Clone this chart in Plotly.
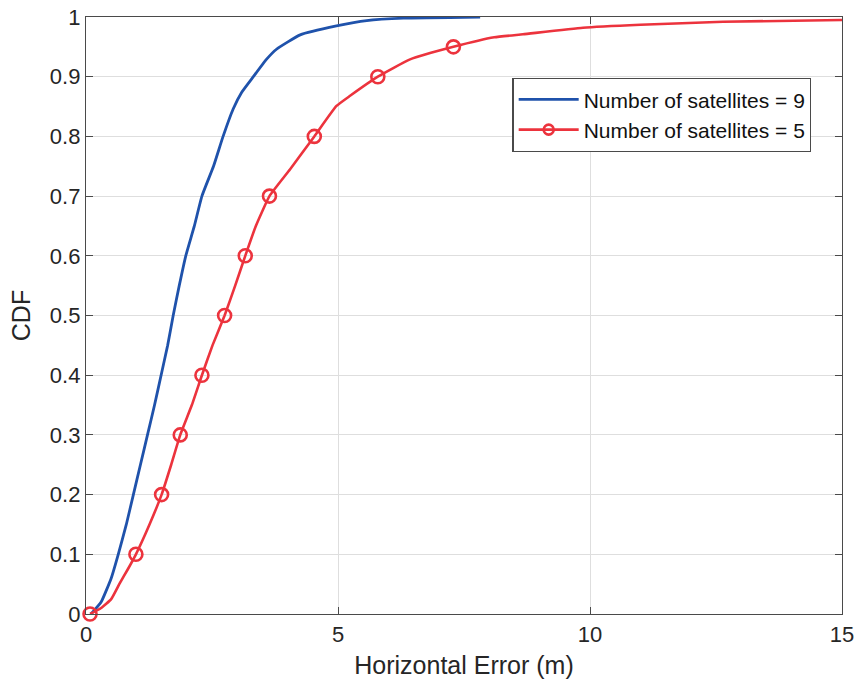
import plotly.graph_objects as go

# Empirical CDF of horizontal error, 9 satellites
err_sat9 = [0.1, 0.3, 0.5, 0.64, 0.8, 0.94, 1.08, 1.22, 1.36, 1.49, 1.62, 1.73, 1.85,
            1.98, 2.15, 2.30, 2.53, 2.72, 2.92, 3.09, 3.32, 3.58, 3.78, 4.25,
            4.97, 5.57, 6.30, 7.82]
cdf_sat9 = [0.0, 0.02, 0.06, 0.1, 0.15, 0.2, 0.25, 0.3, 0.35, 0.4, 0.45, 0.5, 0.55,
            0.6, 0.65, 0.70, 0.75, 0.8, 0.846, 0.874, 0.9, 0.929, 0.946, 0.97,
            0.985, 0.994, 0.998, 1.0]

# Empirical CDF of horizontal error, 5 satellites
err_sat5 = [0.08, 0.3, 0.5, 0.66, 0.83, 0.99, 1.26, 1.50, 1.69, 1.87, 2.10, 2.30,
            2.51, 2.75, 2.96, 3.16, 3.37, 3.64, 4.05, 4.53, 4.97, 5.24, 5.79,
            6.43, 7.29, 8.10, 8.67, 9.86, 11.0, 12.64, 15.0]
cdf_sat5 = [0.0, 0.01, 0.025, 0.05, 0.075, 0.1, 0.15, 0.2, 0.25, 0.3, 0.35, 0.4,
            0.45, 0.5, 0.55, 0.6, 0.65, 0.7, 0.745, 0.8, 0.851, 0.868, 0.9,
            0.929, 0.95, 0.966, 0.971, 0.982, 0.987, 0.992, 0.995]

# Levels where circle markers sit on the 5-satellite curve
marker_levels = [0.0, 0.1, 0.2, 0.3, 0.4, 0.5, 0.6, 0.7, 0.8, 0.9, 0.95]

x_ticks = [0, 5, 10, 15]
y_ticks = [0, 0.1, 0.2, 0.3, 0.4, 0.5, 0.6, 0.7, 0.8, 0.9, 1]
y_tick_text = ["0", "0.1", "0.2", "0.3", "0.4", "0.5", "0.6", "0.7", "0.8", "0.9", "1"]

BLUE = "#1f52ab"
RED = "#ec333d"
FONT = "Liberation Sans, Arial, sans-serif"

mk_x = [x for x, y in zip(err_sat5, cdf_sat5)
        if any(abs(y - m) < 1e-9 for m in marker_levels)]
mk_y = [y for y in cdf_sat5 if any(abs(y - m) < 1e-9 for m in marker_levels)]

fig = go.Figure()
fig.add_trace(go.Scatter(x=err_sat9, y=cdf_sat9, mode="lines",
                         line=dict(color=BLUE, width=2.8, shape="spline", smoothing=0.4),
                         name="Number of satellites = 9"))
fig.add_trace(go.Scatter(x=err_sat5, y=cdf_sat5, mode="lines",
                         line=dict(color=RED, width=2.6, shape="spline", smoothing=0.4),
                         showlegend=False, legendgroup="s5"))
fig.add_trace(go.Scatter(x=mk_x, y=mk_y, mode="markers",
                         marker=dict(symbol="circle-open", size=13, color=RED,
                                     line=dict(width=2.6, color=RED)),
                         showlegend=False, legendgroup="s5", cliponaxis=False))
# legend entry for the 5-satellite curve (line with circle)
fig.add_trace(go.Scatter(x=[None], y=[None], mode="lines+markers",
                         line=dict(color=RED, width=2.6),
                         marker=dict(symbol="circle-open", size=10, color=RED,
                                     line=dict(width=2.6, color=RED)),
                         name="Number of satellites = 5", legendgroup="s5"))

axis_common = dict(
    showline=True, mirror="ticks", linecolor="#4a4a4a", linewidth=1.3,
    ticks="inside", ticklen=7, tickwidth=1.3, tickcolor="#4a4a4a",
    showgrid=True, gridcolor="#dedede", gridwidth=1, zeroline=False,
    automargin=False,
    tickfont=dict(family=FONT, size=22, color="#262626"),
)

fig.update_xaxes(range=[0, 15], tickvals=x_ticks, ticktext=[str(v) for v in x_ticks],
                 title=dict(text="Horizontal Error (m)", standoff=10,
                            font=dict(family=FONT, size=25, color="#262626")),
                 **axis_common)
fig.update_yaxes(range=[0, 1], tickvals=y_ticks, ticktext=y_tick_text,
                 title=dict(text="CDF", standoff=12,
                            font=dict(family=FONT, size=25, color="#262626")),
                 **axis_common)

fig.update_layout(
    width=858, height=688,
    margin=dict(l=86, r=16, t=17, b=74),
    paper_bgcolor="white", plot_bgcolor="white",
    font=dict(family=FONT, size=21, color="#111111"),
    legend=dict(x=0.564, y=0.898, xanchor="left", yanchor="top",
                bgcolor="white", bordercolor="#4a4a4a", borderwidth=1.3,
                font=dict(family=FONT, size=21, color="#111111"),
                tracegroupgap=0, itemwidth=60),
    showlegend=True,
)

fig.write_html("out.html")
